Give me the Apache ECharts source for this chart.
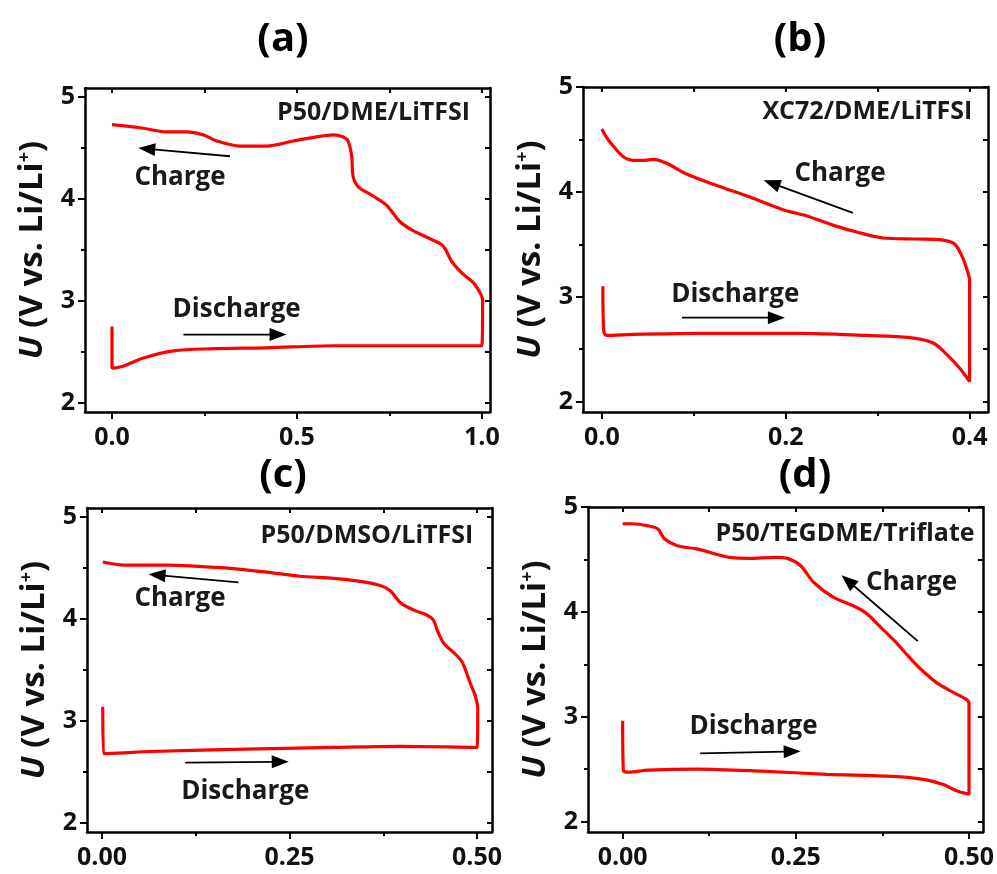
<!DOCTYPE html>
<html lang="en">
<head>
    <meta charset="UTF-8">
    <title>Charge / discharge curves</title>
    <script src="https://cdn.jsdelivr.net/npm/echarts@6/dist/echarts.min.js"></script>
    <style>
        html, body { margin: 0; padding: 0; background: #fff; }
        #main { width: 997px; height: 874px; }
    </style>
</head>
<body>
<div id="main"></div>
<script>
    // (a) P50/DME/LiTFSI
    var capA = [0, 0, 0.03, 0.085, 0.166, 0.265, 0.418, 0.6, 0.78, 1.0, 1.002, 0.995, 0.977, 0.95, 0.918, 0.895, 0.86, 0.814, 0.778, 0.742, 0.706, 0.666, 0.652, 0.648, 0.638, 0.625, 0.598, 0.553, 0.49, 0.418, 0.346, 0.283, 0.247, 0.2, 0.148, 0.076, 0];
    var volA = [2.75, 2.34, 2.36, 2.44, 2.51, 2.53, 2.54, 2.56, 2.56, 2.56, 3.01, 3.08, 3.18, 3.26, 3.39, 3.54, 3.61, 3.69, 3.78, 3.94, 4.03, 4.12, 4.22, 4.42, 4.57, 4.61, 4.63, 4.61, 4.57, 4.52, 4.52, 4.57, 4.63, 4.66, 4.66, 4.70, 4.73];
    // (b) XC72/DME/LiTFSI
    var capB = [0.001, 0.002, 0.005, 0.034, 0.107, 0.215, 0.288, 0.335, 0.36, 0.375, 0.389, 0.4, 0.4, 0.398, 0.393, 0.384, 0.371, 0.342, 0.306, 0.28, 0.252, 0.223, 0.197, 0.161, 0.125, 0.092, 0.071, 0.056, 0.045, 0.034, 0.024, 0.013, 0.005, 0];
    var volB = [3.10, 2.67, 2.63, 2.64, 2.65, 2.65, 2.63, 2.61, 2.56, 2.45, 2.32, 2.19, 3.16, 3.23, 3.36, 3.50, 3.54, 3.55, 3.56, 3.61, 3.68, 3.77, 3.83, 3.95, 4.06, 4.17, 4.27, 4.31, 4.30, 4.30, 4.33, 4.43, 4.52, 4.60];
    // (c) P50/DMSO/LiTFSI
    var capC = [0.001, 0.002, 0.007, 0.064, 0.176, 0.309, 0.398, 0.5, 0.501, 0.498, 0.491, 0.48, 0.469, 0.456, 0.447, 0.442, 0.433, 0.415, 0.398, 0.384, 0.371, 0.344, 0.309, 0.264, 0.22, 0.167, 0.087, 0.029, 0.001];
    var volC = [3.14, 2.68, 2.68, 2.70, 2.72, 2.74, 2.75, 2.74, 3.11, 3.24, 3.37, 3.58, 3.67, 3.76, 3.89, 3.99, 4.04, 4.09, 4.16, 4.28, 4.33, 4.37, 4.40, 4.42, 4.46, 4.50, 4.53, 4.53, 4.56];
    // (d) P50/TEGDME/Triflate
    var capD = [0, 0.001, 0.008, 0.037, 0.107, 0.201, 0.295, 0.389, 0.436, 0.464, 0.483, 0.5, 0.5, 0.497, 0.478, 0.454, 0.431, 0.412, 0.393, 0.37, 0.351, 0.332, 0.304, 0.276, 0.257, 0.238, 0.22, 0.182, 0.154, 0.135, 0.107, 0.079, 0.06, 0.051, 0.037, 0.013, 0];
    var volD = [2.96, 2.49, 2.47, 2.49, 2.50, 2.48, 2.45, 2.43, 2.40, 2.35, 2.29, 2.26, 3.13, 3.16, 3.23, 3.32, 3.45, 3.58, 3.72, 3.87, 3.99, 4.06, 4.14, 4.28, 4.44, 4.51, 4.52, 4.51, 4.52, 4.55, 4.60, 4.63, 4.70, 4.79, 4.82, 4.84, 4.84];

    var panelLetters = ['(a)', '(b)', '(c)', '(d)'];
    var cellNames = ['P50/DME/LiTFSI', 'XC72/DME/LiTFSI', 'P50/DMSO/LiTFSI', 'P50/TEGDME/Triflate'];
    var xMajorA = [0, 0.5, 1.0], xMinorA = [0.25, 0.75];
    var xMajorB = [0, 0.2, 0.4], xMinorB = [0.1, 0.3];
    var xMajorCD = [0, 0.25, 0.5], xMinorCD = [0.125, 0.375];
    var yMajor = [2, 3, 4, 5], yMinor = [2.5, 3.5, 4.5];

    var FONT = 'Open Sans';
    var panels = [
        {cap: capA, vol: volA, grid: {left: 85, top: 88, width: 405, height: 324}, xr: [-0.073, 1.022], yr: [1.91, 5.09],
         xMajor: xMajorA, xMinor: xMinorA, dec: 1, title: [283, 40],
         cell: [0.968, 4.85],
         charge: {text: [0.184, 4.21], from: [0.319, 4.42], to: [0.071, 4.50]},
         discharge: {text: [0.337, 2.92], from: [0.193, 2.67], to: [0.472, 2.67]}},
        {cap: capB, vol: volB, grid: {left: 583, top: 87, width: 405, height: 325}, xr: [-0.0206, 0.42], yr: [1.9, 5.0],
         xMajor: xMajorB, xMinor: xMinorB, dec: 1, title: [800, 40],
         cell: [0.403, 4.76],
         charge: {text: [0.259, 4.17], from: [0.273, 3.80], to: [0.176, 4.11]},
         discharge: {text: [0.145, 3.02], from: [0.087, 2.80], to: [0.199, 2.80]}},
        {cap: capC, vol: volC, grid: {left: 87, top: 508, width: 405, height: 324}, xr: [-0.02, 0.52], yr: [1.91, 5.09],
         xMajor: xMajorCD, xMinor: xMinorCD, dec: 2, title: [283, 476],
         cell: [0.495, 4.82],
         charge: {text: [0.104, 4.20], from: [0.182, 4.36], to: [0.062, 4.44]},
         discharge: {text: [0.191, 2.31], from: [0.111, 2.59], to: [0.249, 2.60]}},
        {cap: capD, vol: volD, grid: {left: 588, top: 507, width: 405, height: 325}, xr: [-0.05, 0.52], yr: [1.9, 5.0],
         xMajor: xMajorCD, xMinor: xMinorCD, dec: 2, title: [805, 476],
         cell: [0.508, 4.74],
         charge: {text: [0.417, 4.28], from: [0.426, 3.72], to: [0.316, 4.35]},
         discharge: {text: [0.189, 2.91], from: [0.112, 2.65], to: [0.257, 2.67]}}
    ];

    var grids = [], xAxes = [], yAxes = [], series = [];
    var frameLine = {show: true, onZero: false, lineStyle: {color: '#000', width: 2.5}};
    var noLine = {show: false, onZero: false};
    var tickStyle = {color: '#000', width: 2};

    panels.forEach(function (p, g) {
        grids.push(p.grid);
        var xi = xAxes.length, yi = yAxes.length;
        var xb = {gridIndex: g, type: 'value', min: p.xr[0], max: p.xr[1], splitLine: {show: false}};
        var yb = {gridIndex: g, type: 'value', min: p.yr[0], max: p.yr[1], splitLine: {show: false}};

        // bottom axis with labels
        xAxes.push(Object.assign({}, xb, {
            position: 'bottom',
            axisLine: frameLine,
            axisTick: {show: true, customValues: p.xMajor, length: 7, lineStyle: tickStyle},
            axisLabel: {show: true, customValues: p.xMajor, margin: 13, color: '#111', fontFamily: FONT, fontWeight: 'bold', fontSize: 25,
                formatter: function (v) { return (+v).toFixed(p.dec); }}
        }));
        // bottom minor ticks
        xAxes.push(Object.assign({}, xb, {
            position: 'bottom',
            axisLine: noLine,
            axisTick: {show: true, customValues: p.xMinor, length: 4, lineStyle: tickStyle},
            axisLabel: {show: false}
        }));
        // top frame
        xAxes.push(Object.assign({}, xb, {
            position: 'top',
            axisLine: frameLine,
            axisTick: {show: true, inside: true, customValues: p.xMajor.concat(p.xMinor), length: 5, lineStyle: tickStyle},
            axisLabel: {show: false}
        }));

        // left axis with labels
        yAxes.push(Object.assign({}, yb, {
            position: 'left',
            axisLine: frameLine,
            axisTick: {show: true, customValues: yMajor, length: 7, lineStyle: tickStyle},
            axisLabel: {show: true, customValues: yMajor, margin: 10, color: '#111', fontFamily: FONT, fontWeight: 'bold', fontSize: 25},
            name: '{u|U} (V vs. Li/Li{s|+})',
            nameLocation: 'middle',
            nameRotate: 90,
            nameGap: 36,
            nameTextStyle: {
                color: '#111', fontFamily: FONT, fontWeight: 'bold', fontSize: 33,
                rich: {
                    u: {fontFamily: FONT, fontWeight: 'bold', fontStyle: 'italic', fontSize: 33, color: '#111'},
                    s: {fontFamily: FONT, fontWeight: 'bold', fontSize: 18, color: '#111', verticalAlign: 'top', lineHeight: 18}
                }
            }
        }));
        yAxes.push(Object.assign({}, yb, {
            position: 'left',
            axisLine: noLine,
            axisTick: {show: true, customValues: yMinor, length: 4, lineStyle: tickStyle},
            axisLabel: {show: false}
        }));
        yAxes.push(Object.assign({}, yb, {
            position: 'right',
            axisLine: frameLine,
            axisTick: {show: true, inside: true, customValues: yMajor.concat(yMinor), length: 5, lineStyle: tickStyle},
            axisLabel: {show: false}
        }));

        var pts = p.cap.map(function (c, i) { return [c, p.vol[i]]; });
        series.push({
            type: 'line',
            xAxisIndex: xi, yAxisIndex: yi,
            data: pts,
            showSymbol: false,
            smooth: 0.3,
            lineStyle: {color: '#ff0000', width: 3.2}
        });
    });

    var myChart = echarts.init(document.getElementById('main'));
    myChart.setOption({
        animation: false,
        backgroundColor: '#fff',
        grid: grids,
        xAxis: xAxes,
        yAxis: yAxes,
        series: series
    });

    // annotations: texts and arrows placed through the axes of each panel
    var graphics = [];
    function arrow(s, from, to) {
        var a = myChart.convertToPixel({seriesIndex: s}, from);
        var b = myChart.convertToPixel({seriesIndex: s}, to);
        var dx = b[0] - a[0], dy = b[1] - a[1];
        var len = Math.sqrt(dx * dx + dy * dy);
        var ux = dx / len, uy = dy / len;
        var hl = 17, hw = 6.5;
        var bx = b[0] - ux * hl, by = b[1] - uy * hl;
        graphics.push({type: 'line', shape: {x1: a[0], y1: a[1], x2: bx + ux * 2, y2: by + uy * 2},
            style: {stroke: '#000', lineWidth: 1.8}});
        graphics.push({type: 'polygon', shape: {points: [b, [bx - uy * hw, by + ux * hw], [bx + uy * hw, by - ux * hw]]},
            style: {fill: '#000'}});
    }
    function label(s, pos, text, size, align) {
        var q = myChart.convertToPixel({seriesIndex: s}, pos);
        graphics.push({type: 'text', x: q[0], y: q[1],
            style: {text: text, align: align, verticalAlign: 'middle', fill: '#1a1a1a',
                font: 'bold ' + size + 'px "' + FONT + '"'}});
    }
    panels.forEach(function (p, g) {
        label(g, p.cell, cellNames[g], 25, 'right');
        label(g, p.charge.text, 'Charge', 26, 'center');
        label(g, p.discharge.text, 'Discharge', 26, 'center');
        arrow(g, p.charge.from, p.charge.to);
        arrow(g, p.discharge.from, p.discharge.to);
        graphics.push({type: 'text', x: p.title[0], y: p.title[1],
            style: {text: panelLetters[g], align: 'center', verticalAlign: 'middle', fill: '#000',
                font: 'bold 40px "' + FONT + '"'}});
    });
    myChart.setOption({graphic: graphics});
</script>
</body>
</html>
